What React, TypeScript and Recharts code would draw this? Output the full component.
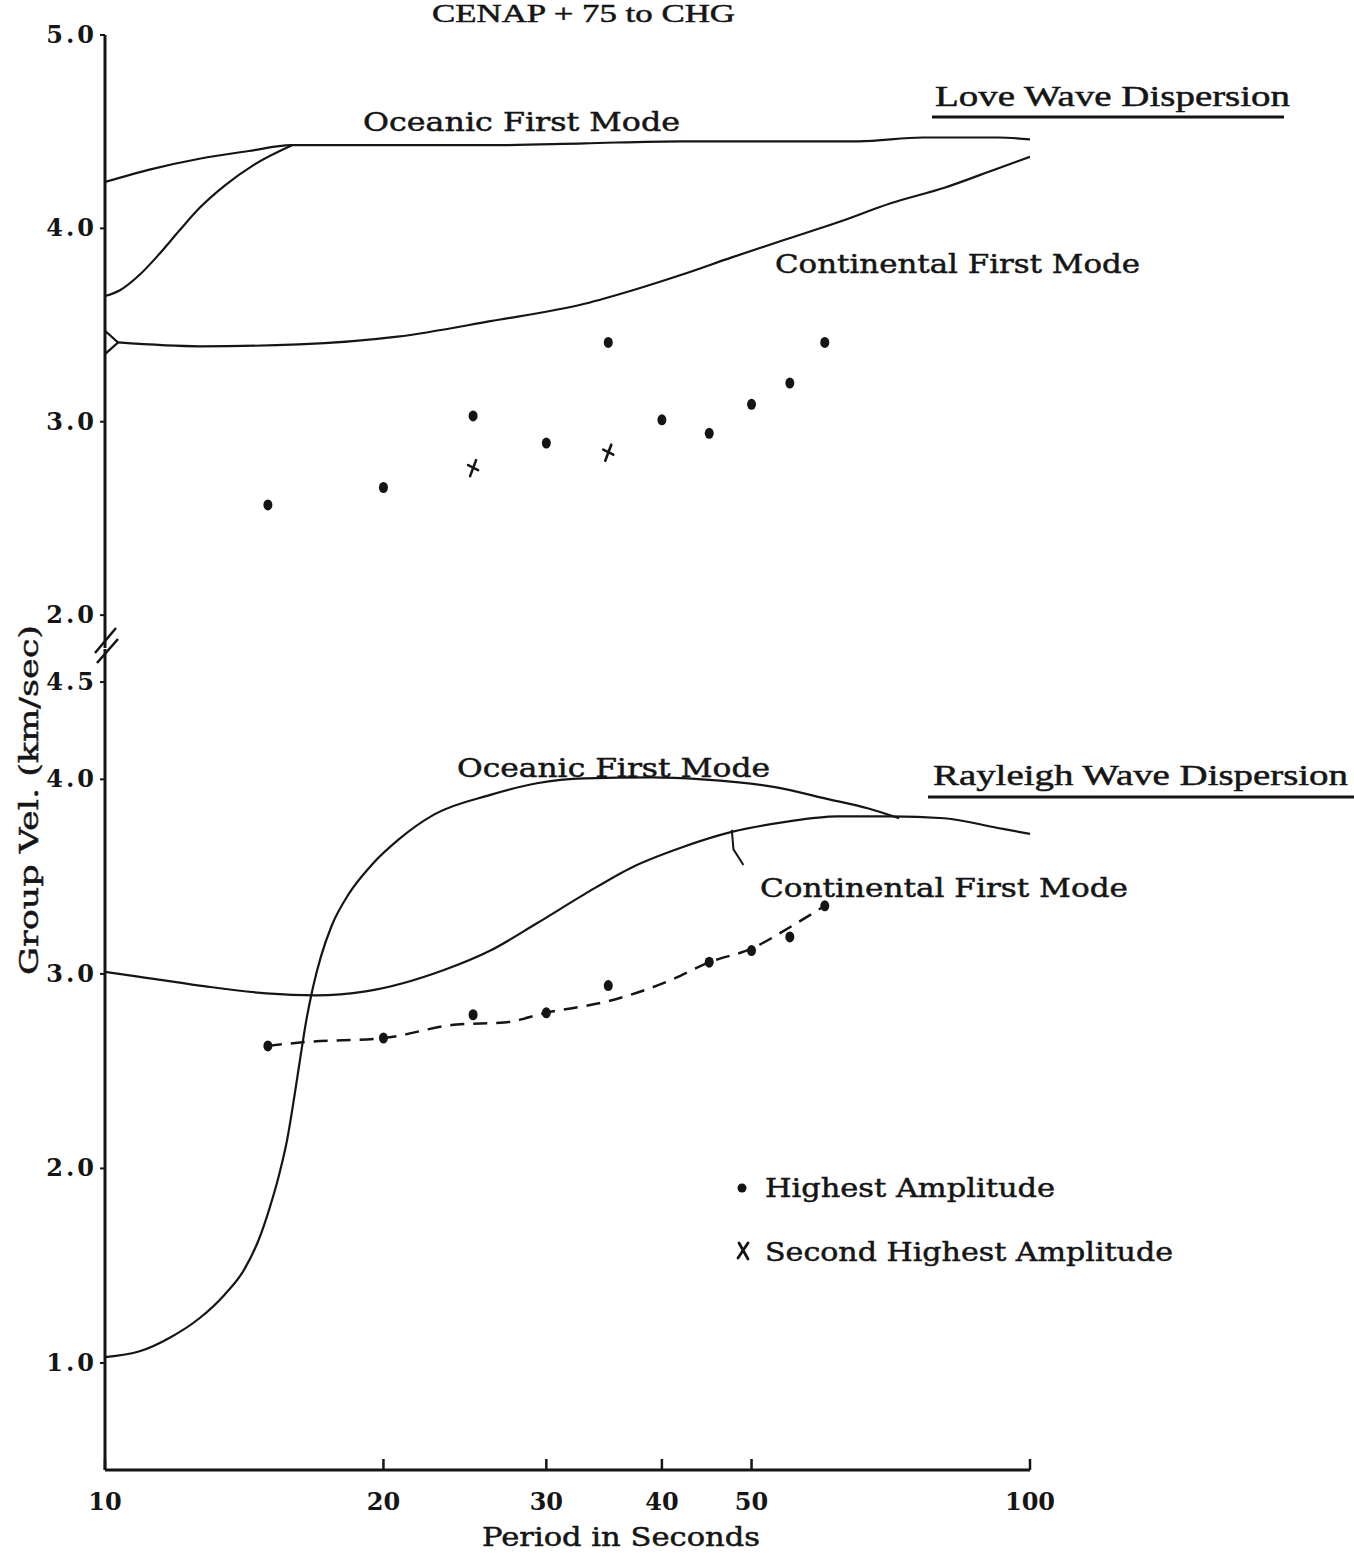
import React from 'react';
import { ComposedChart, Line, Scatter, XAxis, YAxis } from 'recharts';

// period axis (log) and velocity ticks
const periodTicks = [10, 20, 30, 40, 50, 100];
const loveTicks = [2, 3, 4, 5];
const rayleighTicks = [1, 2, 3, 4, 4.5];

// --- Love wave dispersion (upper panel), p = period (s), v = group velocity (km/s)
const loveOceanic = [
  { p: 10, v: 4.24 }, { p: 11.2, v: 4.305 }, { p: 12.65, v: 4.36 }, { p: 14.3, v: 4.4 },
  { p: 15.9, v: 4.43 }, { p: 20.7, v: 4.43 }, { p: 26.1, v: 4.43 }, { p: 33, v: 4.44 },
  { p: 42, v: 4.45 }, { p: 54.2, v: 4.45 }, { p: 65.3, v: 4.45 }, { p: 76.6, v: 4.47 },
  { p: 92.3, v: 4.47 }, { p: 100, v: 4.46 },
];
const loveOceanicBranch = [
  { p: 10, v: 3.65 }, { p: 10.38, v: 3.68 }, { p: 10.9, v: 3.76 }, { p: 11.46, v: 3.87 },
  { p: 12.04, v: 3.99 }, { p: 12.65, v: 4.105 }, { p: 13.46, v: 4.22 }, { p: 14.5, v: 4.33 },
  { p: 15.93, v: 4.43 },
];
const loveHook = [{ p: 10, v: 3.47 }, { p: 10.33, v: 3.41 }, { p: 10, v: 3.35 }];
const loveContinental = [
  { p: 10.33, v: 3.41 }, { p: 12.65, v: 3.39 }, { p: 16.2, v: 3.4 }, { p: 20.7, v: 3.44 },
  { p: 26.1, v: 3.52 }, { p: 33, v: 3.61 }, { p: 37.2, v: 3.68 }, { p: 42, v: 3.76 },
  { p: 47.6, v: 3.85 }, { p: 54.2, v: 3.94 }, { p: 61.9, v: 4.03 }, { p: 70.7, v: 4.13 },
  { p: 80.8, v: 4.21 }, { p: 92.3, v: 4.31 }, { p: 100, v: 4.37 },
];
const loveHighest = [
  { p: 15, v: 2.57 }, { p: 20, v: 2.66 }, { p: 25, v: 3.03 }, { p: 30, v: 2.89 },
  { p: 35, v: 3.41 }, { p: 40, v: 3.01 }, { p: 45, v: 2.94 }, { p: 50, v: 3.09 },
  { p: 55, v: 3.2 }, { p: 60, v: 3.41 },
];
const loveSecond = [{ p: 25, v: 2.76 }, { p: 35, v: 2.84 }];

// --- Rayleigh wave dispersion (lower panel)
const rayleighOceanic = [
  { p: 10, v: 1.03 }, { p: 10.9, v: 1.06 }, { p: 11.75, v: 1.13 }, { p: 12.65, v: 1.23 },
  { p: 13.46, v: 1.35 }, { p: 14.14, v: 1.48 }, { p: 14.68, v: 1.64 }, { p: 15.05, v: 1.79 },
  { p: 15.43, v: 1.97 }, { p: 15.74, v: 2.15 }, { p: 16.01, v: 2.36 }, { p: 16.25, v: 2.56 },
  { p: 16.49, v: 2.75 }, { p: 16.78, v: 2.93 }, { p: 17.12, v: 3.09 }, { p: 17.59, v: 3.25 },
  { p: 18.34, v: 3.41 }, { p: 19.42, v: 3.56 }, { p: 20.76, v: 3.69 }, { p: 22.7, v: 3.82 },
  { p: 26.1, v: 3.92 }, { p: 29.3, v: 3.98 }, { p: 33, v: 4.005 }, { p: 39, v: 4.01 },
  { p: 44.2, v: 4.0 }, { p: 53, v: 3.96 }, { p: 60.3, v: 3.9 }, { p: 66.9, v: 3.85 },
  { p: 72.2, v: 3.8 },
];
const rayleighContinental = [
  { p: 10, v: 3.01 }, { p: 10.72, v: 2.99 }, { p: 12.65, v: 2.94 }, { p: 14.94, v: 2.9 },
  { p: 16.9, v: 2.89 }, { p: 19.13, v: 2.91 }, { p: 23.25, v: 3.02 }, { p: 26.1, v: 3.12 },
  { p: 29.3, v: 3.26 }, { p: 33, v: 3.41 }, { p: 37.2, v: 3.55 }, { p: 42, v: 3.65 },
  { p: 47.6, v: 3.73 }, { p: 54.2, v: 3.78 }, { p: 61.9, v: 3.81 }, { p: 70.7, v: 3.81 },
  { p: 80.8, v: 3.8 }, { p: 92.3, v: 3.75 }, { p: 100, v: 3.72 },
];
const rayleighFit = [
  { p: 15, v: 2.63 }, { p: 16.5, v: 2.65 }, { p: 20, v: 2.67 }, { p: 24, v: 2.74 },
  { p: 27, v: 2.75 }, { p: 30, v: 2.8 }, { p: 35, v: 2.86 }, { p: 41, v: 2.97 },
  { p: 45, v: 3.06 }, { p: 50, v: 3.13 }, { p: 55, v: 3.24 }, { p: 60, v: 3.35 },
];
const rayleighHighest = [
  { p: 15, v: 2.63 }, { p: 20, v: 2.67 }, { p: 25, v: 2.79 }, { p: 30, v: 2.8 },
  { p: 35, v: 2.94 }, { p: 45, v: 3.06 }, { p: 50, v: 3.12 }, { p: 55, v: 3.19 },
  { p: 60, v: 3.35 },
];
// hand-drawn pointer from the continental curve to its label
const rayleighPointer = [{ p: 47.6, v: 3.74 }, { p: 47.8, v: 3.64 }, { p: 49, v: 3.56 }];

const W = 1354;
const PLOT_LEFT = 105;
const PLOT_RIGHT = 1030;
const ink = '#151515';
const serif = '"DejaVu Serif", "Liberation Serif", serif';
const roman = '"Liberation Serif", "DejaVu Serif", serif';

function Dot({ cx, cy }: any) {
  return <ellipse cx={cx} cy={cy} rx={4.5} ry={5.5} fill={ink} />;
}

// the plotted crosses are small tilted "+" marks
function Cross({ cx, cy }: any) {
  return (
    <g stroke={ink} strokeWidth={2.6} strokeLinecap="round">
      <line x1={cx + 3} y1={cy - 8} x2={cx - 3} y2={cy + 8} />
      <line x1={cx - 5} y1={cy - 3} x2={cx + 5} y2={cy + 2} />
    </g>
  );
}

function LegendCross({ cx, cy }: any) {
  return (
    <g stroke={ink} strokeWidth={2.8} strokeLinecap="round">
      <line x1={cx - 4} y1={cy - 8} x2={cx + 5} y2={cy + 8} />
      <line x1={cx + 5} y1={cy - 8} x2={cx - 5} y2={cy + 7} />
    </g>
  );
}

function VelTick({ x, y, payload }: any) {
  return (
    <text x={x} y={y} dy={8} textAnchor="end" fontFamily={serif} fontSize={24}
      fontWeight="bold" letterSpacing={3} fill={ink}>
      {Number(payload.value).toFixed(1)}
    </text>
  );
}

function PeriodTick({ x, y, payload }: any) {
  return (
    <g>
      <line x1={x} x2={x} y1={y - 11} y2={y} stroke={ink} strokeWidth={2.5} />
      <text x={x} y={y + 40} textAnchor="middle" fontFamily={serif} fontSize={24}
        fontWeight="bold" fill={ink}>
        {payload.value}
      </text>
    </g>
  );
}

const curve = (data: any[], extra: any = {}) => (
  <Line data={data} dataKey="v" type="monotone" stroke={ink} strokeWidth={2.2}
    dot={false} activeDot={false} isAnimationActive={false} {...extra} />
);

function Label({ x, y, w, size = 26, font = serif, children }: any) {
  return (
    <text x={x} y={y} textLength={w} lengthAdjust="spacingAndGlyphs" fontFamily={font}
      fontSize={size} fill={ink} stroke={ink} strokeWidth={0.5}>
      {children}
    </text>
  );
}

export default function App() {
  const axisLine = { stroke: ink, strokeWidth: 3 };
  return (
    <div style={{ position: 'absolute', left: 0, top: 0, width: W, height: 1553, background: '#fff' }}>
      {/* upper panel: Love waves */}
      <div style={{ position: 'absolute', left: 0, top: 0 }}>
        <ComposedChart width={W} height={648} margin={{ top: 35, right: W - PLOT_RIGHT, bottom: 0, left: 0 }}>
          <XAxis type="number" dataKey="p" scale="log" domain={[10, 100]} ticks={periodTicks}
            hide allowDataOverflow />
          <YAxis type="number" dataKey="v" domain={[1.83, 5]} ticks={loveTicks} interval={0}
            width={PLOT_LEFT} allowDataOverflow axisLine={axisLine}
            tickLine={{ stroke: ink, strokeWidth: 2 }} tickSize={5} tickMargin={3} tick={<VelTick />} />
          {curve(loveOceanic)}
          {curve(loveOceanicBranch)}
          {curve(loveHook, { type: 'linear' })}
          {curve(loveContinental)}
          <Scatter data={loveHighest} dataKey="v" isAnimationActive={false}
            shape={(props: any) => <Dot {...props} />} />
          <Scatter data={loveSecond} dataKey="v" isAnimationActive={false}
            shape={(props: any) => <Cross {...props} />} />
        </ComposedChart>
      </div>

      {/* lower panel: Rayleigh waves */}
      <div style={{ position: 'absolute', left: 0, top: 640 }}>
        <ComposedChart width={W} height={913} margin={{ top: 9, right: W - PLOT_RIGHT, bottom: 43, left: 0 }}>
          <XAxis type="number" dataKey="p" scale="log" domain={[10, 100]} ticks={periodTicks}
            interval={0} height={40} allowDataOverflow axisLine={axisLine} tickLine={false}
            tickSize={0} tickMargin={0} tick={<PeriodTick />} />
          <YAxis type="number" dataKey="v" domain={[0.45, 4.67]} ticks={rayleighTicks} interval={0}
            width={PLOT_LEFT} allowDataOverflow axisLine={axisLine}
            tickLine={{ stroke: ink, strokeWidth: 2 }} tickSize={5} tickMargin={3} tick={<VelTick />} />
          {curve(rayleighOceanic)}
          {curve(rayleighContinental)}
          {curve(rayleighFit, { strokeDasharray: '14 9', strokeWidth: 2.5 })}
          {curve(rayleighPointer, { type: 'linear', strokeWidth: 2 })}
          <Scatter data={rayleighHighest} dataKey="v" isAnimationActive={false}
            shape={(props: any) => <Dot {...props} />} />
        </ComposedChart>
      </div>

      {/* annotations */}
      <svg width={W} height={1553} style={{ position: 'absolute', left: 0, top: 0, pointerEvents: 'none' }}>
        <Label x={432} y={22} w={303} size={26} font={roman}>CENAP + 75 to CHG</Label>

        <Label x={935} y={106} w={355} size={30} font={roman}>Love Wave Dispersion</Label>
        <line x1={932} x2={1284} y1={117} y2={117} stroke={ink} strokeWidth={3} />
        <Label x={363} y={131} w={317}>Oceanic First Mode</Label>
        <Label x={775} y={273} w={365}>Continental First Mode</Label>

        <Label x={933} y={785} w={415} size={30} font={roman}>Rayleigh Wave Dispersion</Label>
        <line x1={928} x2={1354} y1={797} y2={797} stroke={ink} strokeWidth={3} />
        <Label x={457} y={777} w={313}>Oceanic First Mode</Label>
        <Label x={760} y={897} w={368}>Continental First Mode</Label>

        <circle cx={742} cy={1188} r={4.5} fill={ink} />
        <Label x={765} y={1197} w={290}>Highest Amplitude</Label>
        <LegendCross cx={743} cy={1251} />
        <Label x={765} y={1261} w={408}>Second Highest Amplitude</Label>

        <Label x={482} y={1546} w={278}>Period in Seconds</Label>
        <g transform="rotate(-90 38 975)">
          <Label x={38} y={975} w={350}>Group Vel.  (km/sec)</Label>
        </g>

        {/* axis break */}
        <g stroke={ink} strokeWidth={2.5}>
          <line x1={95} y1={653} x2={116} y2={628} />
          <line x1={97} y1={663} x2={118} y2={639} />
        </g>
      </svg>
    </div>
  );
}
